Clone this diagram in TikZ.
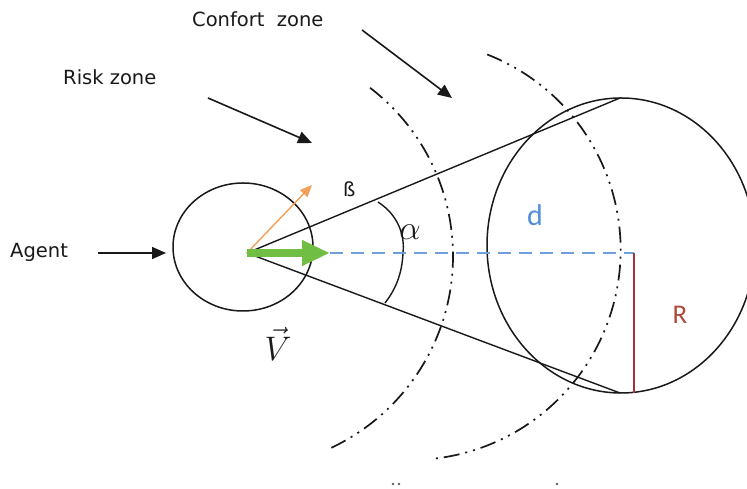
\RequirePackage{fix-cm}
\documentclass[tikz,border=0pt]{standalone}
\usepackage{fontspec}
\setmainfont{DejaVu Sans}
\newfontfamily\carl{Carlito}
\usetikzlibrary{arrows.meta,shapes.geometric}
\definecolor{vgreen}{RGB}{112,190,68}
\definecolor{vorange}{RGB}{244,160,90}
\definecolor{vblue}{RGB}{110,160,222}
\definecolor{vred}{RGB}{168,48,60}
\definecolor{dblue}{RGB}{84,142,222}
\definecolor{rbrown}{RGB}{176,72,62}
\definecolor{ink}{RGB}{25,25,25}
\tikzset{
  lbl/.style={inner sep=0pt, text=ink, font=\fontsize{19.5}{23}\selectfont},
  outline/.style={draw=ink, line width=1.5pt, ellipse, inner sep=0pt},
  ray/.style={draw=ink, line width=1.4pt},
  zonearc/.style={draw=ink, line width=1.7pt,
    dash pattern=on 16pt off 6pt on 2pt off 6pt on 2pt off 6pt},
  blkarrow/.style={draw=ink, line width=1.6pt, -{Triangle[length=14pt,width=12pt]}},
}
\begin{document}
\begin{tikzpicture}[x=1pt,y=1pt]
\useasboundingbox (0,0) rectangle (747,489);
\fill[white] (0,0) rectangle (747,489);
\clip (0,0) rectangle (747,489);

% key points
\coordinate (A) at (247,236);
\coordinate (T1) at (620,391);
\coordinate (T2) at (620,96);
\coordinate (G) at (330,236);
\coordinate (O) at (312,304);
\coordinate (D) at (634,236);
\coordinate (Rb) at (634,96);
\coordinate (Z1) at (241,233);
\coordinate (Z2) at (410.6,239);

% shapes
\node[outline, minimum width=140pt, minimum height=128pt] (agent) at (243,242) {};
\node[outline, minimum width=268pt, minimum height=295pt] (cone) at (621,243.5) {};

% zone arcs
\draw[zonearc] (Z1) ++(52.5:212) arc[start angle=52.5, end angle=-66.1, radius=212];
\draw[zonearc] (Z2) ++(68.6:210) arc[start angle=68.6, end angle=-83.3, radius=210];

% cone rays
\draw[ray] (A) -- (T1);
\draw[ray] (A) -- (T2);

% alpha arc
\coordinate (a1) at (378,287);
\coordinate (a2) at (403,236);
\coordinate (a3) at (385,186);
\draw[ray] (a1) .. controls (398,274) and (405,254) .. (a2)
               .. controls (402,214) and (395,199) .. (a3);

% d and R
\draw[vblue, line width=1.5pt, dash pattern=on 13pt off 8pt] (G) -- (D);
\draw[vred, line width=1.5pt] (D) -- (Rb);

% velocity arrows
\draw[vorange, line width=1.4pt, -{Triangle[length=12pt,width=10pt]}] (A) -- (O);
\draw[vgreen, line width=8pt, -{Triangle[length=28pt,width=24pt]}] (A) -- (G);

% pointer arrows
\coordinate (rs) at (208,391);
\coordinate (re) at (312,346);
\coordinate (cs) at (362,459);
\coordinate (ce) at (452,391);
\coordinate (as) at (98,236);
\coordinate (ae) at (166,236);
\draw[blkarrow] (rs) -- (re);
\draw[blkarrow] (cs) -- (ce);
\draw[blkarrow] (as) -- (ae);

% labels
\node[lbl, anchor=base west] (conf) at (192,462) {Confort\ \ zone};
\node[lbl, anchor=base west] (risk) at (63,404) {Risk zone};
\node[lbl, anchor=base west] (agt) at (10,231) {Agent};
\node[lbl, anchor=base west] (beta) at (343,292) {ß};
\node[inner sep=0pt, text=ink, font=\fontsize{34}{38}\selectfont] (alpha) at (410,257) {$\alpha$};
\node[inner sep=0pt, text=dblue, font=\carl\fontsize{30}{32}\selectfont] (dl) at (535,274) {d};
\node[inner sep=0pt, text=rbrown, font=\carl\fontsize{27}{30}\selectfont] (Rl) at (680,174) {R};
\node[inner sep=0pt, text=ink, font=\fontsize{34}{38}\selectfont] (vel) at (278,145) {$\vec{V}$};

% fragments of cut-off text at the bottom edge
\fill[ink!70] (393,5) circle[radius=1.3];
\fill[ink!70] (399,5) circle[radius=1.3];
\fill[ink!70] (557,5) circle[radius=1.3];
\end{tikzpicture}
\end{document}
